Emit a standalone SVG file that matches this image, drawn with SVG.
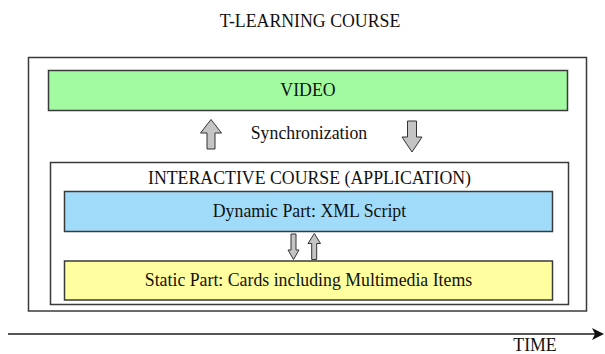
<svg xmlns="http://www.w3.org/2000/svg" width="605" height="354" viewBox="0 0 605 354">
<style>
text{font-family:"Liberation Serif","Times New Roman",serif;font-size:17.8px;fill:#111;text-anchor:middle}
.box{stroke:#3a3a3a;stroke-width:1.5}
.arr{fill:#c4c4c4;stroke:#333;stroke-width:1;stroke-linejoin:miter}
</style>
<rect width="605" height="354" fill="#fff"/>
<text x="310" y="27">T-LEARNING COURSE</text>
<g id="course">
<rect class="box" x="28.5" y="57.5" width="558" height="253.5" fill="#fff"/>
</g>
<g id="video">
<rect class="box" x="48.5" y="70.5" width="519" height="40" fill="#a2fba0"/>
<text x="308" y="96">VIDEO</text>
</g>
<g id="sync">
<text x="309" y="139">Synchronization</text>
</g>
<g id="interactive">
<rect class="box" x="50.5" y="162.5" width="518" height="142" fill="#fff"/>
<text x="309.5" y="184">INTERACTIVE COURSE (APPLICATION)</text>
</g>
<g id="dynamic">
<rect class="box" x="64.5" y="191.5" width="488" height="40" fill="#a0dcfa"/>
<text x="309.5" y="217">Dynamic Part: XML Script</text>
</g>
<g id="static">
<rect class="box" x="64.5" y="261" width="488" height="39" fill="#ffffa0"/>
<text x="308.5" y="286">Static Part: Cards including Multimedia Items</text>
</g>
<g id="connectors">
<polygon class="arr" points="211,119.5 221.5,133 215,133 215,149 207,149 207,133 200.5,133"/>
<polygon class="arr" points="407.5,121 416.5,121 416.5,137 422,137 412,152 402,137 407.5,137"/>
<polygon class="arr" points="291,234 296,234 296,250 299,250 293.5,259.5 288,250 291,250"/>
<polygon class="arr" points="314.3,233.5 320.5,243.5 316.7,243.5 316.7,259.5 311.7,259.5 311.7,243.5 308,243.5"/>
<line x1="8" y1="334" x2="598" y2="334" stroke="#555" stroke-width="2"/>
<polygon points="592,328 604,334 592,340 595,334" fill="#111"/>
</g>
<text x="535" y="351">TIME</text>
</svg>
